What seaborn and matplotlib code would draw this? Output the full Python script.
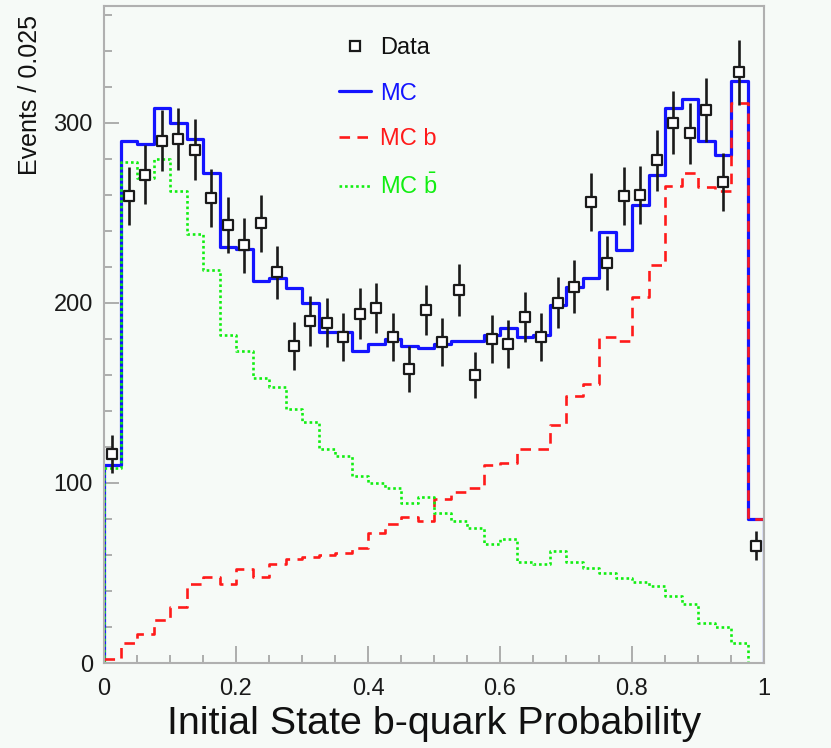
import numpy as np
import pandas as pd
import matplotlib
matplotlib.use("Agg")
import matplotlib.pyplot as plt
import seaborn as sns
from matplotlib.lines import Line2D
from matplotlib.ticker import MultipleLocator, FuncFormatter

# 40 bins of width 0.025 on [0, 1]
bin_width = 0.025
n_bins = 40
edges = np.arange(n_bins + 1) * bin_width
centers = edges[:-1] + bin_width / 2

data_counts = [116, 259, 271, 290, 291, 285, 258, 243, 232, 244,
               217, 176, 190, 189, 181, 194, 197, 181, 163, 196,
               178, 207, 160, 180, 177, 192, 181, 200, 209, 256,
               222, 259, 260, 279, 300, 294, 307, 267, 328, 65]

mc_total = [110, 290, 288, 308, 300, 291, 272, 231, 230, 212,
            214, 208, 200, 184, 184, 173, 177, 180, 176, 175,
            177, 179, 179, 182, 186, 181, 182, 199, 209, 214,
            239, 229, 254, 271, 308, 313, 290, 282, 323, 80]

mc_b = [2, 11, 16, 24, 31, 44, 48, 44, 52, 48,
        55, 58, 59, 60, 61, 64, 72, 77, 81, 79,
        91, 95, 97, 110, 111, 119, 119, 132, 148, 155,
        181, 179, 203, 221, 265, 272, 264, 262, 311, 80]

mc_bbar = [108, 278, 269, 280, 262, 238, 218, 182, 173, 158,
           153, 141, 134, 119, 115, 104, 100, 97, 89, 92,
           83, 79, 75, 66, 69, 56, 55, 62, 56, 53,
           50, 47, 45, 43, 37, 33, 22, 20, 11, 0]

bg = "#f6faf7"
c_mc, c_b, c_bbar = "#1414ff", "#ff1a1a", "#11ee11"

sns.set_style("ticks")
plt.rcParams["font.family"] = ["Liberation Sans", "DejaVu Sans"]
plt.rcParams["mathtext.fontset"] = "custom"
plt.rcParams["mathtext.rm"] = "Liberation Sans"
plt.rcParams["mathtext.it"] = "Liberation Sans"

fig = plt.figure(figsize=(8.31, 7.48), dpi=100, facecolor=bg)
ax = fig.add_axes([104 / 831, 1 - 663 / 748, 660 / 831, 657.5 / 748], facecolor=bg)

# MC histograms (ROOT-like step outlines, closed down to zero at the ends)
hist_styles = [
    (mc_total, c_mc, "-", 2.3),
    (mc_b, c_b, (0, (4, 2.8)), 1.9),
    (mc_bbar, c_bbar, (0, (1, 1.1)), 1.9),
]
for vals, col, ls, lw in hist_styles:
    df = pd.DataFrame({"prob": centers, "n": vals})
    sns.histplot(data=df, x="prob", weights="n", bins=list(edges), element="step",
                 fill=False, color=col, linewidth=lw, linestyle=ls, ax=ax)
    ax.vlines([edges[0], edges[-1]], 0, [vals[0], vals[-1]],
              colors=col, linewidth=lw, linestyles=[ls])

# data with Poisson errors
ax.errorbar(centers, data_counts, yerr=np.sqrt(data_counts), fmt="none",
            ecolor="#1a1a1a", elinewidth=1.9, capsize=0, zorder=4)
sns.scatterplot(x=centers, y=data_counts, marker="s", s=46, color="white",
                edgecolor="#1a1a1a", linewidth=1.6, zorder=5, ax=ax)

ax.set_xlim(0, 1)
ax.set_ylim(0, 365)

for s in ax.spines.values():
    s.set_color("#b0b0b0")
    s.set_linewidth(1.5)

ax.xaxis.set_major_locator(MultipleLocator(0.2))
ax.xaxis.set_minor_locator(MultipleLocator(0.05))
ax.yaxis.set_major_locator(MultipleLocator(100))
ax.yaxis.set_minor_locator(MultipleLocator(20))
ax.xaxis.set_major_formatter(FuncFormatter(lambda v, p: f"{v:g}"))
ax.tick_params(which="both", direction="in", color="#a0a0a0", width=1.2,
               top=False, right=False, labelsize=17, labelcolor="#1a1a1a")
ax.tick_params(axis="x", which="major", length=12, pad=11)
ax.tick_params(axis="x", which="minor", length=6)
ax.tick_params(axis="y", which="major", length=11, pad=8)
ax.tick_params(axis="y", which="minor", length=6)

ax.set_xlabel("Initial State b-quark Probability", fontsize=28.4, color="#111111",
              labelpad=4)
ax.set_ylabel("Events / 0.025", fontsize=18, color="#111111", loc="top")
ax.yaxis.set_label_coords(-0.094, 0.985)

handles = [
    Line2D([], [], marker="s", ls="none", mfc="white", mec="#1a1a1a", ms=7, mew=1.6),
    Line2D([], [], color=c_mc, lw=2.3),
    Line2D([], [], color=c_b, lw=1.9, ls=(0, (4, 2.8))),
    Line2D([], [], color=c_bbar, lw=1.9, ls=(0, (1, 1.1))),
]
labels = ["Data", "MC", "MC b", r"MC $\bar{\mathrm{b}}$"]
ax.legend(handles, labels, loc="upper left", bbox_to_anchor=(0.356, 0.952),
          frameon=False, fontsize=17, handlelength=1.35, handletextpad=0.4,
          labelspacing=1.0, borderpad=0, borderaxespad=0,
          labelcolor=["#111111", c_mc, c_b, c_bbar])

fig.savefig("out.png", dpi=100, facecolor=bg)
